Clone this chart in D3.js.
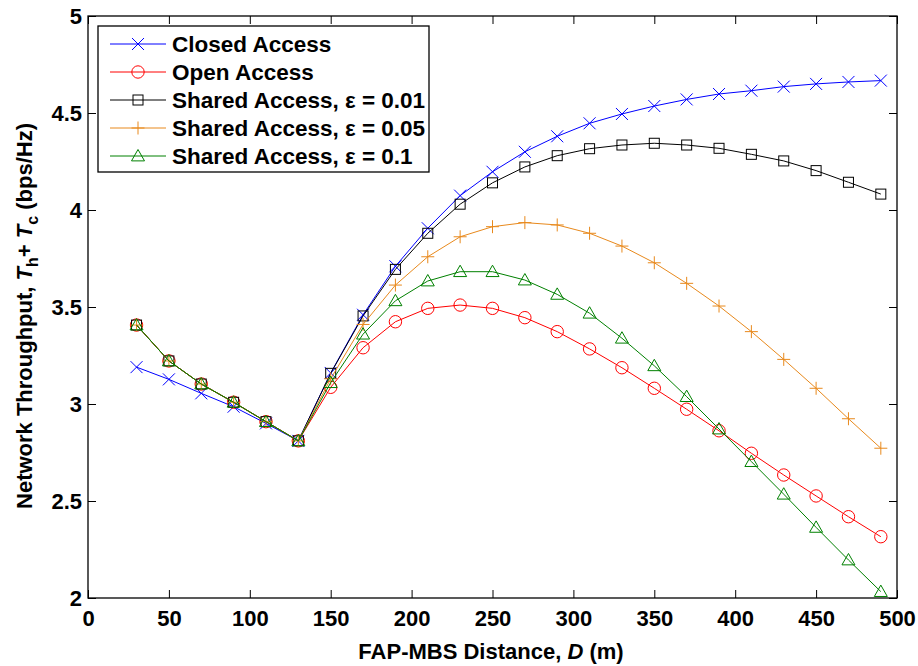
<!DOCTYPE html>
<html>
<head>
<meta charset="utf-8">
<script src="https://cdn.jsdelivr.net/npm/d3@7/dist/d3.min.js"></script>
<style>
  html, body { margin: 0; padding: 0; background: #fff; }
  svg { display: block; }
  text { font-family: "Liberation Sans", Arial, Helvetica, sans-serif; font-weight: bold; fill: #000; }
</style>
</head>
<body>
<svg id="chart" width="918" height="666"></svg>
<script>
const distance = [30, 50, 70, 90, 110, 130, 150, 170, 190, 210, 230, 250, 270, 290, 310, 330, 350, 370, 390, 410, 430, 450, 470, 490];
const closedAccess = [3.19, 3.127, 3.055, 2.986, 2.90, 2.81, 3.16, 3.46, 3.71, 3.906, 4.074, 4.197, 4.30, 4.38, 4.447, 4.495, 4.536, 4.57, 4.598, 4.615, 4.636, 4.65, 4.66, 4.667];
const openAccess = [3.407, 3.222, 3.103, 3.009, 2.909, 2.81, 3.086, 3.29, 3.424, 3.493, 3.510, 3.493, 3.445, 3.373, 3.284, 3.187, 3.081, 2.973, 2.862, 2.746, 2.634, 2.526, 2.419, 2.316];
const shared001 = [3.407, 3.222, 3.103, 3.009, 2.909, 2.81, 3.158, 3.454, 3.694, 3.88, 4.03, 4.14, 4.222, 4.28, 4.316, 4.335, 4.344, 4.335, 4.318, 4.287, 4.253, 4.203, 4.143, 4.082];
const shared005 = [3.407, 3.222, 3.103, 3.009, 2.909, 2.81, 3.13, 3.41, 3.613, 3.759, 3.862, 3.914, 3.935, 3.923, 3.88, 3.814, 3.728, 3.622, 3.505, 3.373, 3.23, 3.081, 2.924, 2.772];
const shared01 = [3.407, 3.222, 3.103, 3.009, 2.909, 2.81, 3.11, 3.36, 3.532, 3.634, 3.682, 3.682, 3.639, 3.565, 3.468, 3.339, 3.197, 3.038, 2.871, 2.703, 2.535, 2.364, 2.196, 2.033];
const seriesNames = ["Closed Access", "Open Access", "Shared Access, \u03b5 = 0.01", "Shared Access, \u03b5 = 0.05", "Shared Access, \u03b5 = 0.1"];
const seriesColors = ["#0000ff", "#ff0000", "#000000", "#e8891c", "#008000"];
const seriesMarkers = ["x", "circle", "square", "plus", "triangle"];
const xTicks = [0, 50, 100, 150, 200, 250, 300, 350, 400, 450, 500];
const yTicks = [2, 2.5, 3, 3.5, 4, 4.5, 5];

const seriesValues = [closedAccess, openAccess, shared001, shared005, shared01];

const svg = d3.select("#chart");
const pLeft = 88, pRight = 897, pTop = 16, pBottom = 598;
const x = d3.scaleLinear().domain([0, 500]).range([pLeft, pRight]);
const y = d3.scaleLinear().domain([2, 5]).range([pBottom, pTop]);

const tickLen = 8;
const gx = svg.append("g").attr("transform", `translate(0,${pBottom})`)
  .call(d3.axisBottom(x).tickValues(xTicks).tickSize(-tickLen).tickPadding(12).tickFormat(d3.format("d")));
const gxTop = svg.append("g").attr("transform", `translate(0,${pTop})`)
  .call(d3.axisTop(x).tickValues(xTicks).tickSize(-tickLen).tickFormat(""));
const gy = svg.append("g").attr("transform", `translate(${pLeft},0)`)
  .call(d3.axisLeft(y).tickValues(yTicks).tickSize(-tickLen).tickPadding(6).tickFormat(d => String(d)));
const gyRight = svg.append("g").attr("transform", `translate(${pRight},0)`)
  .call(d3.axisRight(y).tickValues(yTicks).tickSize(-tickLen).tickFormat(""));

[gx, gxTop, gy, gyRight].forEach(g => {
  g.selectAll(".domain").remove();
  g.selectAll(".tick line").attr("stroke", "#000").attr("stroke-width", 1);
});
[gx, gy].forEach(g => g.selectAll(".tick text")
  .attr("font-size", 22).attr("font-family", "Liberation Sans, Arial, sans-serif")
  .attr("font-weight", "bold").attr("fill", "#000"));

svg.append("rect").attr("x", pLeft).attr("y", pTop).attr("width", pRight - pLeft).attr("height", pBottom - pTop)
  .attr("fill", "none").attr("stroke", "#000").attr("stroke-width", 1.3);

function drawMarker(g, type, cx, cy, color) {
  if (type === "x") {
    const s = 6;
    g.append("path").attr("d", `M${cx - s},${cy - s}L${cx + s},${cy + s}M${cx - s},${cy + s}L${cx + s},${cy - s}`)
      .attr("stroke", color).attr("stroke-width", 1).attr("fill", "none");
  } else if (type === "circle") {
    g.append("circle").attr("cx", cx).attr("cy", cy).attr("r", 6.2).attr("stroke", color).attr("stroke-width", 1).attr("fill", "none");
  } else if (type === "square") {
    const s = 5;
    g.append("rect").attr("x", cx - s).attr("y", cy - s).attr("width", 2 * s).attr("height", 2 * s)
      .attr("stroke", color).attr("stroke-width", 1).attr("fill", "none");
  } else if (type === "plus") {
    const s = 6.5;
    g.append("path").attr("d", `M${cx - s},${cy}L${cx + s},${cy}M${cx},${cy - s}L${cx},${cy + s}`)
      .attr("stroke", color).attr("stroke-width", 1).attr("fill", "none");
  } else if (type === "triangle") {
    const s = 6.5;
    g.append("path").attr("d", `M${cx},${cy - s}L${cx + s},${cy + s * 0.75}L${cx - s},${cy + s * 0.75}Z`)
      .attr("stroke", color).attr("stroke-width", 1).attr("fill", "none");
  }
}

const line = d3.line().x(d => x(d[0])).y(d => y(d[1]));
seriesValues.forEach((vals, i) => {
  const pts = distance.map((d, j) => [d, vals[j]]);
  const g = svg.append("g");
  g.append("path").attr("d", line(pts)).attr("fill", "none").attr("stroke", seriesColors[i]).attr("stroke-width", 1);
  pts.forEach(p => drawMarker(g, seriesMarkers[i], x(p[0]), y(p[1]), seriesColors[i]));
});

const lg = svg.append("g");
lg.append("rect").attr("x", 98).attr("y", 26).attr("width", 331).attr("height", 146)
  .attr("fill", "#fff").attr("stroke", "#000").attr("stroke-width", 1.3);
seriesNames.forEach((name, i) => {
  const cy = 44 + i * 28;
  lg.append("line").attr("x1", 110).attr("x2", 166).attr("y1", cy).attr("y2", cy)
    .attr("stroke", seriesColors[i]).attr("stroke-width", 1);
  drawMarker(lg, seriesMarkers[i], 138, cy, seriesColors[i]);
  lg.append("text").attr("x", 172).attr("y", cy + 8).attr("font-size", 22.5).text(name);
});

const xt = svg.append("text").attr("x", 491).attr("y", 659).attr("text-anchor", "middle").attr("font-size", 22);
xt.append("tspan").text("FAP-MBS Distance,  ");
xt.append("tspan").attr("font-style", "italic").text("D");
xt.append("tspan").text(" (m)");

const yt = svg.append("text").attr("transform", "translate(32,316) rotate(-90)").attr("text-anchor", "middle").attr("font-size", 22);
yt.append("tspan").text("Network Throughput, ");
yt.append("tspan").attr("font-style", "italic").text("T");
yt.append("tspan").attr("font-size", 16).attr("dy", 6).text("h");
yt.append("tspan").attr("dy", -6).text("+ ");
yt.append("tspan").attr("font-style", "italic").text("T");
yt.append("tspan").attr("font-size", 16).attr("dy", 6).text("c");
yt.append("tspan").attr("dy", -6).text("  (bps/Hz)");
</script>
</body>
</html>
